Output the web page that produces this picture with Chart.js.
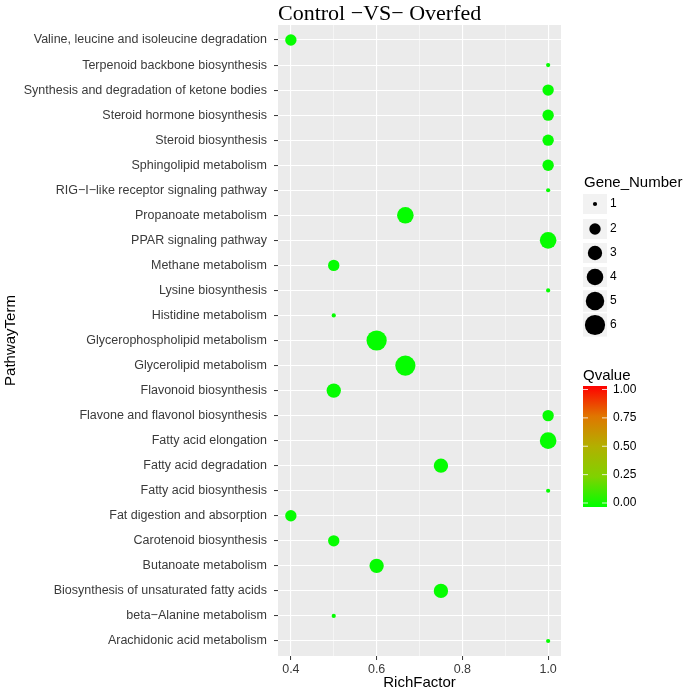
<!DOCTYPE html>
<html>
<head>
<meta charset="utf-8">
<script src="https://cdn.jsdelivr.net/npm/chart.js@4/dist/chart.umd.min.js"></script>
<style>
  html, body { margin: 0; padding: 0; background: #fff; }
  #wrap { width: 685px; height: 693px; }
</style>
</head>
<body>
<div id="wrap"><canvas id="chart"></canvas></div>
<script>
// pathways listed top to bottom as in the plot
const pathways = [
  'Valine, leucine and isoleucine degradation',
  'Terpenoid backbone biosynthesis',
  'Synthesis and degradation of ketone bodies',
  'Steroid hormone biosynthesis',
  'Steroid biosynthesis',
  'Sphingolipid metabolism',
  'RIG\u2212I\u2212like receptor signaling pathway',
  'Propanoate metabolism',
  'PPAR signaling pathway',
  'Methane metabolism',
  'Lysine biosynthesis',
  'Histidine metabolism',
  'Glycerophospholipid metabolism',
  'Glycerolipid metabolism',
  'Flavonoid biosynthesis',
  'Flavone and flavonol biosynthesis',
  'Fatty acid elongation',
  'Fatty acid degradation',
  'Fatty acid biosynthesis',
  'Fat digestion and absorption',
  'Carotenoid biosynthesis',
  'Butanoate metabolism',
  'Biosynthesis of unsaturated fatty acids',
  'beta\u2212Alanine metabolism',
  'Arachidonic acid metabolism'
];
const richFactor = [0.4, 1.0, 1.0, 1.0, 1.0, 1.0, 1.0, 0.667, 1.0, 0.5, 1.0, 0.5, 0.6, 0.667,
  0.5, 1.0, 1.0, 0.75, 1.0, 0.4, 0.5, 0.6, 0.75, 0.5, 1.0];
const geneNumber = [2, 1, 2, 2, 2, 2, 1, 4, 4, 2, 1, 1, 6, 6, 3, 2, 4, 3, 1, 2, 2, 3, 3, 1, 1];
const qValue = [0.01, 0.01, 0.01, 0.01, 0.01, 0.01, 0.01, 0.01, 0.01, 0.01, 0.01, 0.01, 0.01,
  0.01, 0.01, 0.01, 0.01, 0.01, 0.01, 0.01, 0.01, 0.01, 0.01, 0.01, 0.01];

const xMajorTicks = [0.4, 0.6, 0.8, 1.0];
const xMinorTicks = [0.5, 0.7, 0.9];
const sizeLegend = [1, 2, 3, 4, 5, 6];
const qTicks = [0, 0.25, 0.5, 0.75, 1];

// low (green) -> high (red) colour ramp
const qStops = [[0, [0, 255, 0]], [0.25, [128, 210, 0]], [0.5, [178, 176, 0]], [0.75, [224, 118, 0]], [1, [255, 0, 0]]];
function qColor(q) {
  for (let i = 1; i < qStops.length; i++) {
    if (q <= qStops[i][0]) {
      const [a, ca] = qStops[i - 1], [b, cb] = qStops[i];
      const t = (q - a) / (b - a);
      const c = ca.map((v, k) => Math.round(v + (cb[k] - v) * t));
      return `rgb(${c[0]},${c[1]},${c[2]})`;
    }
  }
  return 'rgb(255,0,0)';
}

// area scale like ggplot (size range 1..6)
const gMin = 1, gMax = 6;
function radius(g) {
  const s = 1 + 5 * Math.sqrt((g - gMin) / (gMax - gMin));
  return 1.6 * s + 0.5;
}

const font = "'Liberation Sans', Arial, sans-serif";
Chart.defaults.font.family = font;

const decor = {
  id: 'decor',
  beforeDraw(chart) {
    const { ctx, chartArea: a } = chart;
    ctx.save();
    ctx.fillStyle = '#EBEBEB';
    ctx.fillRect(a.left, a.top, a.right - a.left, a.bottom - a.top);
    ctx.restore();
  },
  afterDraw(chart) {
    const { ctx, chartArea: a } = chart;
    ctx.save();
    // title
    ctx.fillStyle = '#000';
    ctx.font = "22px 'Liberation Serif', 'DejaVu Serif', serif";
    ctx.textBaseline = 'alphabetic';
    ctx.textAlign = 'left';
    ctx.fillText('Control \u2212VS\u2212 Overfed', a.left, 20);

    // size legend
    const lx = 595;
    ctx.font = '15px ' + font;
    ctx.fillStyle = '#000';
    ctx.fillText('Gene_Number', 584, 187);
    const rowY = [204, 229, 253, 277, 301, 325];
    sizeLegend.forEach((g, i) => {
      const r = radius(g);
      const h = Math.max(20, 2 * r + 3);
      ctx.fillStyle = '#F2F2F2';
      ctx.fillRect(lx - 12, rowY[i] - h / 2, 24, h);
      ctx.fillStyle = '#000';
      ctx.beginPath();
      ctx.arc(lx, rowY[i], r, 0, Math.PI * 2);
      ctx.fill();
      ctx.font = '12px ' + font;
      ctx.textBaseline = 'middle';
      ctx.fillText(String(g), 610, rowY[i]);
      ctx.textBaseline = 'alphabetic';
    });

    // colour bar
    const bx = 583, bw = 24, bt = 386, bb = 507;
    ctx.font = '15px ' + font;
    ctx.fillStyle = '#000';
    ctx.fillText('Qvalue', 583, 380);
    const grad = ctx.createLinearGradient(0, bb, 0, bt);
    qStops.forEach(([p, c]) => grad.addColorStop(p, `rgb(${c[0]},${c[1]},${c[2]})`));
    ctx.fillStyle = grad;
    ctx.fillRect(bx, bt, bw, bb - bt);
    ctx.strokeStyle = 'rgba(255,255,255,0.8)';
    ctx.lineWidth = 1;
    ctx.font = '12px ' + font;
    ctx.textBaseline = 'middle';
    qTicks.forEach(q => {
      const y = 503 - q * 113.5;
      ctx.beginPath();
      ctx.moveTo(bx, y); ctx.lineTo(bx + 5, y);
      ctx.moveTo(bx + bw - 5, y); ctx.lineTo(bx + bw, y);
      ctx.stroke();
      ctx.fillStyle = '#000';
      ctx.fillText(q.toFixed(2), 613, y);
    });
    ctx.restore();
  }
};

const points = pathways.map((p, i) => ({ x: richFactor[i], y: i, r: radius(geneNumber[i]) }));

new Chart(document.getElementById('chart'), {
  type: 'bubble',
  data: {
    datasets: [{
      data: points,
      backgroundColor: qValue.map(qColor),
      borderWidth: 0,
      hoverRadius: 0
    }]
  },
  options: {
    responsive: true,
    maintainAspectRatio: false,
    animation: false,
    layout: { padding: { top: 25, right: 124, left: 0, bottom: 0 } },
    plugins: { legend: { display: false }, tooltip: { enabled: false } },
    scales: {
      x: {
        type: 'linear',
        min: 0.37,
        max: 1.03,
        afterBuildTicks: s => { s.ticks = [...xMajorTicks, ...xMinorTicks].sort((a, b) => a - b).map(v => ({ value: v })); },
        afterFit: s => { s.height = 37; },
        border: { display: false },
        grid: {
          color: '#fff',
          lineWidth: c => (xMajorTicks.some(v => Math.abs(v - c.tick.value) < 1e-6) ? 1.1 : 0.5),
          tickColor: c => (xMajorTicks.some(v => Math.abs(v - c.tick.value) < 1e-6) ? '#333' : 'rgba(0,0,0,0)'),
          tickLength: 4,
          tickWidth: 1
        },
        ticks: {
          autoSkip: false,
          maxRotation: 0,
          padding: 2,
          color: '#3A3A3A',
          font: { size: 12.5 },
          callback: v => (xMajorTicks.some(m => Math.abs(m - v) < 1e-6) ? v.toFixed(1) : '')
        },
        title: { display: true, text: 'RichFactor', color: '#000', font: { size: 15 }, padding: { top: 0, bottom: 1 } }
      },
      y: {
        type: 'linear',
        reverse: true,
        min: -0.6,
        max: pathways.length - 0.4,
        afterBuildTicks: s => { s.ticks = pathways.map((p, i) => ({ value: i })); },
        afterFit: s => { s.width = 278; },
        border: { display: false },
        grid: { color: '#fff', lineWidth: 1.1, tickColor: '#333', tickLength: 4, tickWidth: 1 },
        ticks: {
          autoSkip: false,
          padding: 7,
          color: '#3A3A3A',
          font: { size: 12.5 },
          callback: v => pathways[v]
        },
        title: { display: true, text: 'PathwayTerm', color: '#000', font: { size: 15 }, padding: { top: 2, bottom: 0 } }
      }
    }
  },
  plugins: [decor]
});
</script>
</body>
</html>
